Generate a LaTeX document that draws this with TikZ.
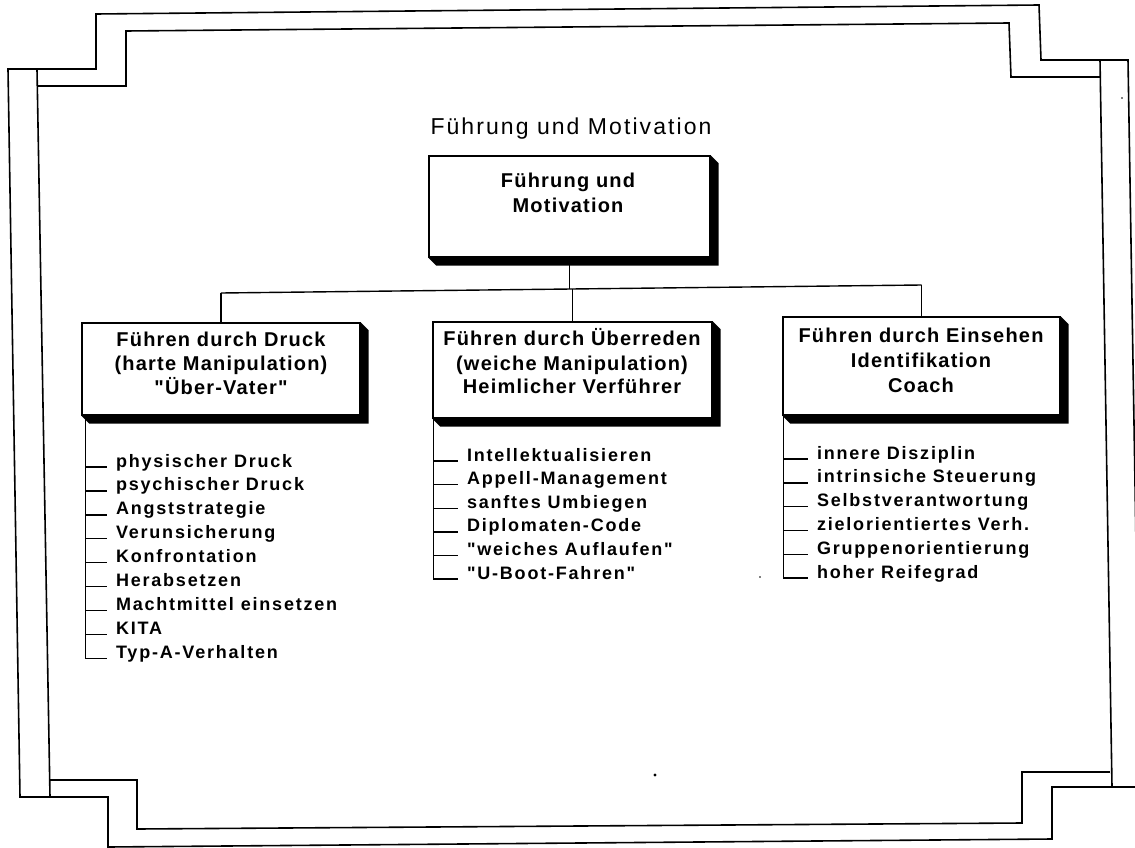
\documentclass[tikz,border=0pt]{standalone}
\usepackage{fontspec}
\setmainfont{Liberation Sans}
\newfontfamily\titlef[LetterSpace=9]{Liberation Sans}
\newfontfamily\boxf[LetterSpace=6]{Liberation Sans}
\newfontfamily\listf[LetterSpace=10]{Liberation Sans}
\newcommand\boxshadow[1]{%
  \fill ([shift={(8,8)}]#1.south east) -- ([shift={(8,8)}]#1.south west) -- (#1.south west)
    -- (#1.south east) -- (#1.north east) -- ([shift={(8,8)}]#1.north east) -- cycle;}
\begin{document}
\begin{tikzpicture}[x=1pt,y=-1pt,line width=1.4pt,
  frame/.style={line width=1.6pt,line join=miter},
  box/.style={draw,fill=white,inner sep=0pt},
  boxtxt/.style={anchor=base,inner sep=0pt,font=\boxf\bfseries\fontsize{20}{24}\selectfont},
  item/.style={anchor=base west,inner xsep=9pt,inner ysep=0pt,outer sep=0pt,font=\listf\bfseries\fontsize{18}{22}\selectfont},
  ttl/.style={anchor=base,inner sep=0pt,font=\titlef\fontsize{23}{27}\selectfont}]
\clip (0,0) rectangle (1135,848);
% frame
\draw[frame] (8,69) -- (96,69) -- (96,14) -- (1039,5) -- (1041,60) -- (1128,60) -- (1140,787)
  -- (1052,787) -- (1052,839) -- (108,847) -- (108,797) -- (20,797) -- cycle;
\draw[frame] (37,69) -- (50,797);
\draw[frame] (37.3,86) -- (126,86) -- (126,31) -- (1009,23) -- (1011,77) -- (1100.3,77);
\draw[frame] (1100,60) -- (1112,787);
\draw[frame] (49.8,780) -- (137,780) -- (137,829) -- (1022,823) -- (1022,772) -- (1109.8,772);
\fill (655,775) circle (1.6);
\fill (1122,98) circle (0.9);
\fill (760,577) circle (0.8);
% title
\node[ttl] (title) at (571,135) {Führung und Motivation};
% boxes
\node[box,minimum width=281pt,minimum height=101pt] (top) at (569.5,206.5) {};
\node[box,minimum width=278pt,minimum height=92pt] (left) at (221,369) {};
\node[box,minimum width=279pt,minimum height=96pt] (mid) at (572.5,370) {};
\node[box,minimum width=277pt,minimum height=98pt] (right) at (921.5,366) {};
\boxshadow{top}\boxshadow{left}\boxshadow{mid}\boxshadow{right}
\node[boxtxt] (top-1) at (568,187) {Führung und};
\node[boxtxt] (top-2) at (568,212) {Motivation};
\node[boxtxt] (left-1) at (221,346) {Führen durch Druck};
\node[boxtxt] (left-2) at (221,370) {(harte Manipulation)};
\node[boxtxt] (left-3) at (221,394) {"Über-Vater"};
\node[boxtxt] (mid-1) at (572,345) {Führen durch Überreden};
\node[boxtxt] (mid-2) at (572,370) {(weiche Manipulation)};
\node[boxtxt] (mid-3) at (572,393) {Heimlicher Verführer};
\node[boxtxt] (right-1) at (921,342) {Führen durch Einsehen};
\node[boxtxt] (right-2) at (921,367) {Identifikation};
\node[boxtxt] (right-3) at (921,392) {Coach};
% connectors
\coordinate (bL) at (219,293);
\coordinate (bM) at (571,289);
\coordinate (bR) at (922,285);
\draw (top.south) -- (top.south |- bM);
\draw (left.north |- bL) -- (right.north |- bR);
\draw (left.north |- bL) -- (left.north);
\draw (mid.north |- bM) -- (mid.north);
\draw (right.north |- bR) -- (right.north);
% lists
\coordinate (Lsp) at ([xshift=4pt]left.south west);
\coordinate (Msp) at ([xshift=1pt]mid.south west);
\coordinate (Rsp) at ([xshift=1pt]right.south west);
\foreach \t [count=\i] in {physischer Druck,psychischer Druck,Angststrategie,Verunsicherung,Konfrontation,Herabsetzen,Machtmittel einsetzen,KITA,Typ-A-Verhalten}{
  \node[item] (L\i) at (107,{467+23.9*(\i-1)}) {\t};
  \draw (Lsp |- L\i.base west) -- (L\i.base west);
}
\foreach \t [count=\i] in {Intellektualisieren,Appell-Management,sanftes Umbiegen,Diplomaten-Code,"weiches Auflaufen","U-Boot-Fahren"}{
  \node[item] (M\i) at (458,{461+23.6*(\i-1)}) {\t};
  \draw (Msp |- M\i.base west) -- (M\i.base west);
}
\foreach \t [count=\i] in {innere Disziplin,intrinsiche Steuerung,Selbstverantwortung,zielorientiertes Verh.,Gruppenorientierung,hoher Reifegrad}{
  \node[item] (R\i) at (808,{459+23.8*(\i-1)}) {\t};
  \draw (Rsp |- R\i.base west) -- (R\i.base west);
}
\draw (Lsp) -- (Lsp |- L9.base west) -- (L9.base west);
\draw (Msp) -- (Msp |- M6.base west) -- (M6.base west);
\draw (Rsp) -- (Rsp |- R6.base west) -- (R6.base west);
\end{tikzpicture}
\end{document}
